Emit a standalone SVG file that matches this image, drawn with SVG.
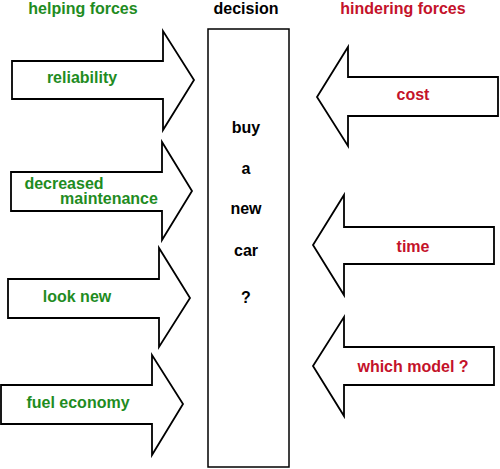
<svg xmlns="http://www.w3.org/2000/svg" width="500" height="469" viewBox="0 0 500 469">
<style>
.arr{fill:#fff;stroke:#000;stroke-width:1.8;stroke-linejoin:miter}
text{font-family:"Liberation Sans",Arial,sans-serif;font-weight:bold;font-size:16px;text-anchor:middle}
.g{fill:#1f8c1f}
.r{fill:#c4122a}
.k{fill:#000}
</style>
<rect width="500" height="469" fill="#fff"/>
<g id="headings">
<text class="g" x="83" y="14">helping forces</text>
<text class="k" x="246" y="14">decision</text>
<text class="r" x="403" y="14">hindering forces</text>
</g>
<g id="decision">
<rect x="208" y="29" width="81" height="438" fill="#fff" stroke="#000" stroke-width="1.5"/>
<text class="k" x="246" y="133">buy</text>
<text class="k" x="246" y="174">a</text>
<text class="k" x="246" y="214">new</text>
<text class="k" x="246" y="256">car</text>
<text class="k" x="246" y="303">?</text>
</g>
<g id="connectors">
<g id="reliability">
<polygon class="arr" points="12,61 163,61 163,31 194,80 163,130 163,99 12,99"/>
<text class="g" x="82" y="83">reliability</text>
</g>
<g id="maintenance">
<polygon class="arr" points="11,172 162,172 162,142 192,191 162,240 162,211 11,211"/>
<text class="g" x="64" y="189">decreased</text>
<text class="g" x="109" y="204">maintenance</text>
</g>
<g id="looknew">
<polygon class="arr" points="8,279 159,279 159,248 190,298 159,347 159,318 8,318"/>
<text class="g" x="77" y="302">look new</text>
</g>
<g id="fuel">
<polygon class="arr" points="1,385 152,385 152,355 183,404 152,455 152,424 1,424"/>
<text class="g" x="78" y="408">fuel economy</text>
</g>
<g id="cost">
<polygon class="arr" points="498,77 348,77 348,47 317,97 348,146 348,116 498,116"/>
<text class="r" x="413" y="100">cost</text>
</g>
<g id="time">
<polygon class="arr" points="494,227 344,227 344,195 313,245 344,295 344,264 494,264"/>
<text class="r" x="413" y="252">time</text>
</g>
<g id="model">
<polygon class="arr" points="494,347 344,347 344,317 313,366 344,416 344,385 494,385"/>
<text class="r" x="413" y="372">which model ?</text>
</g>
</g>
</svg>
